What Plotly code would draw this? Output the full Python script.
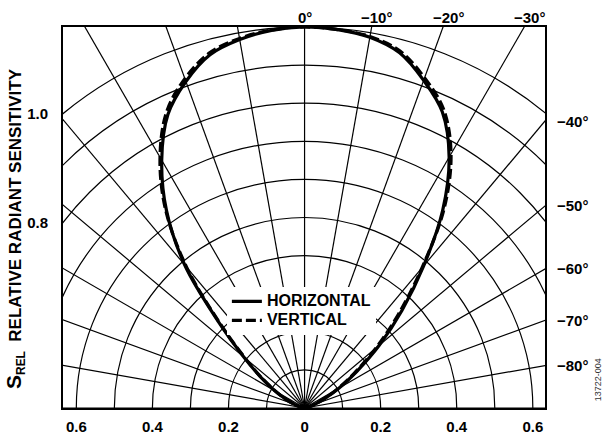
import numpy as np
import plotly.graph_objects as go

# Angle of incidence (deg); negative angles are drawn on the right-hand side
angle_deg = [-90, -85, -80, -75, -70, -65, -60, -55, -50, -45, -40, -35, -30, -25,
             -20, -15, -10, -5, 0, 5, 10, 15, 20, 25, 30, 35, 40, 45, 50, 55, 60,
             65, 70, 75, 80, 85, 90]

# Relative radiant sensitivity, horizontal plane
s_rel_horizontal = [0.0, 0.002, 0.006, 0.014, 0.030, 0.058, 0.105, 0.168, 0.257, 0.362,
                    0.487, 0.633, 0.760, 0.857, 0.915, 0.965, 0.988, 0.997, 1.000,
                    0.995, 0.982, 0.960, 0.912, 0.850, 0.751, 0.633, 0.490, 0.320,
                    0.210, 0.140, 0.090, 0.055, 0.030, 0.015, 0.006, 0.002, 0.0]

# Relative radiant sensitivity, vertical plane
s_rel_vertical = [0.0, 0.002, 0.006, 0.013, 0.028, 0.055, 0.100, 0.160, 0.245, 0.350,
                  0.480, 0.640, 0.770, 0.865, 0.922, 0.970, 0.990, 0.997, 1.000,
                  0.996, 0.985, 0.965, 0.920, 0.858, 0.760, 0.638, 0.482, 0.315,
                  0.205, 0.137, 0.088, 0.055, 0.030, 0.014, 0.006, 0.002, 0.0]

# Polar grid
grid_radii = [0.1, 0.2, 0.3, 0.4, 0.5, 0.6, 0.7, 0.8, 0.9, 1.0]
grid_angles = [-90, -80, -70, -60, -50, -40, -30, -20, -10, 0, 10, 20, 30, 40, 50, 60, 70, 80, 90]

# Bottom tick labels (distance from the optical axis)
x_tickvals = [-0.6, -0.4, -0.2, 0, 0.2, 0.4, 0.6]
x_ticktext = ["0.6", "0.4", "0.2", "0", "0.2", "0.4", "0.6"]

# Labelled circles on the left edge and labelled angles along top / right
left_labels = [1.0, 0.8]
top_angles = [0, -10, -20, -30]
right_angles = [-40, -50, -60, -70, -80]

X_MIN, X_MAX = -0.635, 0.632
Y_MIN, Y_MAX = 0.0, 1.0

FONT = "Liberation Sans, Arial, sans-serif"
LABEL_FONT = dict(family=FONT, size=15, color="black")


def to_xy(angles, radii):
    a = np.radians(np.array(angles, dtype=float))
    r = np.array(radii, dtype=float)
    return -r * np.sin(a), r * np.cos(a)


def bold(s):
    return f"<b>{s}</b>"


def legend_label(s):
    # larger glyphs than the legend's base size keep the two rows close together
    return f"<b><span style='font-size:16px'>{s}</span></b>"


fig = go.Figure()

shapes = []
for r in grid_radii:
    shapes.append(dict(type="circle", xref="x", yref="y", x0=-r, x1=r, y0=-r, y1=r,
                       line=dict(color="black", width=1.2), layer="below"))
for a in grid_angles:
    gx, gy = to_xy([a], [2.0])
    shapes.append(dict(type="line", xref="x", yref="y", x0=0, y0=0,
                       x1=float(gx[0]), y1=float(gy[0]),
                       line=dict(color="black", width=1.2), layer="below"))

hx, hy = to_xy(angle_deg, s_rel_horizontal)
vx, vy = to_xy(angle_deg, s_rel_vertical)

fig.add_trace(go.Scatter(x=hx, y=hy, mode="lines", name=legend_label("HORIZONTAL"),
                         line=dict(color="black", width=3.2, shape="spline")))
fig.add_trace(go.Scatter(x=vx, y=vy, mode="lines", name=legend_label("VERTICAL"),
                         line=dict(color="black", width=3.2, shape="spline",
                                   dash="10px,4px")))

annotations = []
for a in top_angles:
    annotations.append(dict(x=float(np.tan(np.radians(-a)) * Y_MAX), y=1, xref="x", yref="paper",
                            text=bold(f"{'−' if a < 0 else ''}{abs(a)}°"), showarrow=False,
                            xanchor="center", yanchor="middle", xshift=5 if a else 0, yshift=10,
                            font=LABEL_FONT))
for a in right_angles:
    annotations.append(dict(x=1, y=float(X_MAX / np.tan(np.radians(-a))), xref="paper", yref="y",
                            text=bold(f"−{abs(a)}°"), showarrow=False,
                            xanchor="left", yanchor="middle", xshift=10,
                            font=LABEL_FONT))
annotations.append(dict(x=0, y=0.47, xref="paper", yref="paper", xshift=-48,
                        text=bold("<span style='font-size:21px'>S</span><sub>REL</sub>  RELATIVE RADIANT SENSITIVITY"),
                        textangle=-90, showarrow=False, xanchor="center", yanchor="middle",
                        font=dict(family=FONT, size=17, color="black")))
annotations.append(dict(x=1, y=0.073, xref="paper", yref="paper", xshift=53,
                        text="13722-004", textangle=-90, showarrow=False,
                        xanchor="center", yanchor="middle",
                        font=dict(family=FONT, size=9, color="#333")))

y_tickvals = [float(np.sqrt(r ** 2 - X_MIN ** 2)) for r in left_labels]
y_ticktext = [bold(f"{r:.1f}") for r in left_labels]

fig.update_layout(
    width=606, height=436,
    margin=dict(l=63, r=61, t=27, b=28, autoexpand=False),
    paper_bgcolor="white", plot_bgcolor="white",
    shapes=shapes, annotations=annotations,
    showlegend=True,
    legend=dict(x=0.34, y=0.318, xanchor="left", yanchor="top",
                bgcolor="white", borderwidth=0, tracegroupgap=0,
                font=dict(family=FONT, size=12, color="black"),
                itemwidth=30),
    xaxis=dict(range=[X_MIN, X_MAX], showgrid=False, zeroline=False, automargin=False,
               showline=True, mirror=True, linecolor="black", linewidth=2,
               tickvals=x_tickvals, ticktext=[bold(t) for t in x_ticktext], ticks="",
               ticklabelstandoff=4, tickfont=LABEL_FONT),
    yaxis=dict(range=[Y_MIN, Y_MAX], showgrid=False, zeroline=False, automargin=False,
               showline=True, mirror=True, linecolor="black", linewidth=2,
               tickvals=y_tickvals, ticktext=y_ticktext, ticks="",
               ticklabelstandoff=10, tickfont=LABEL_FONT),
)

fig.write_html("out.html")
